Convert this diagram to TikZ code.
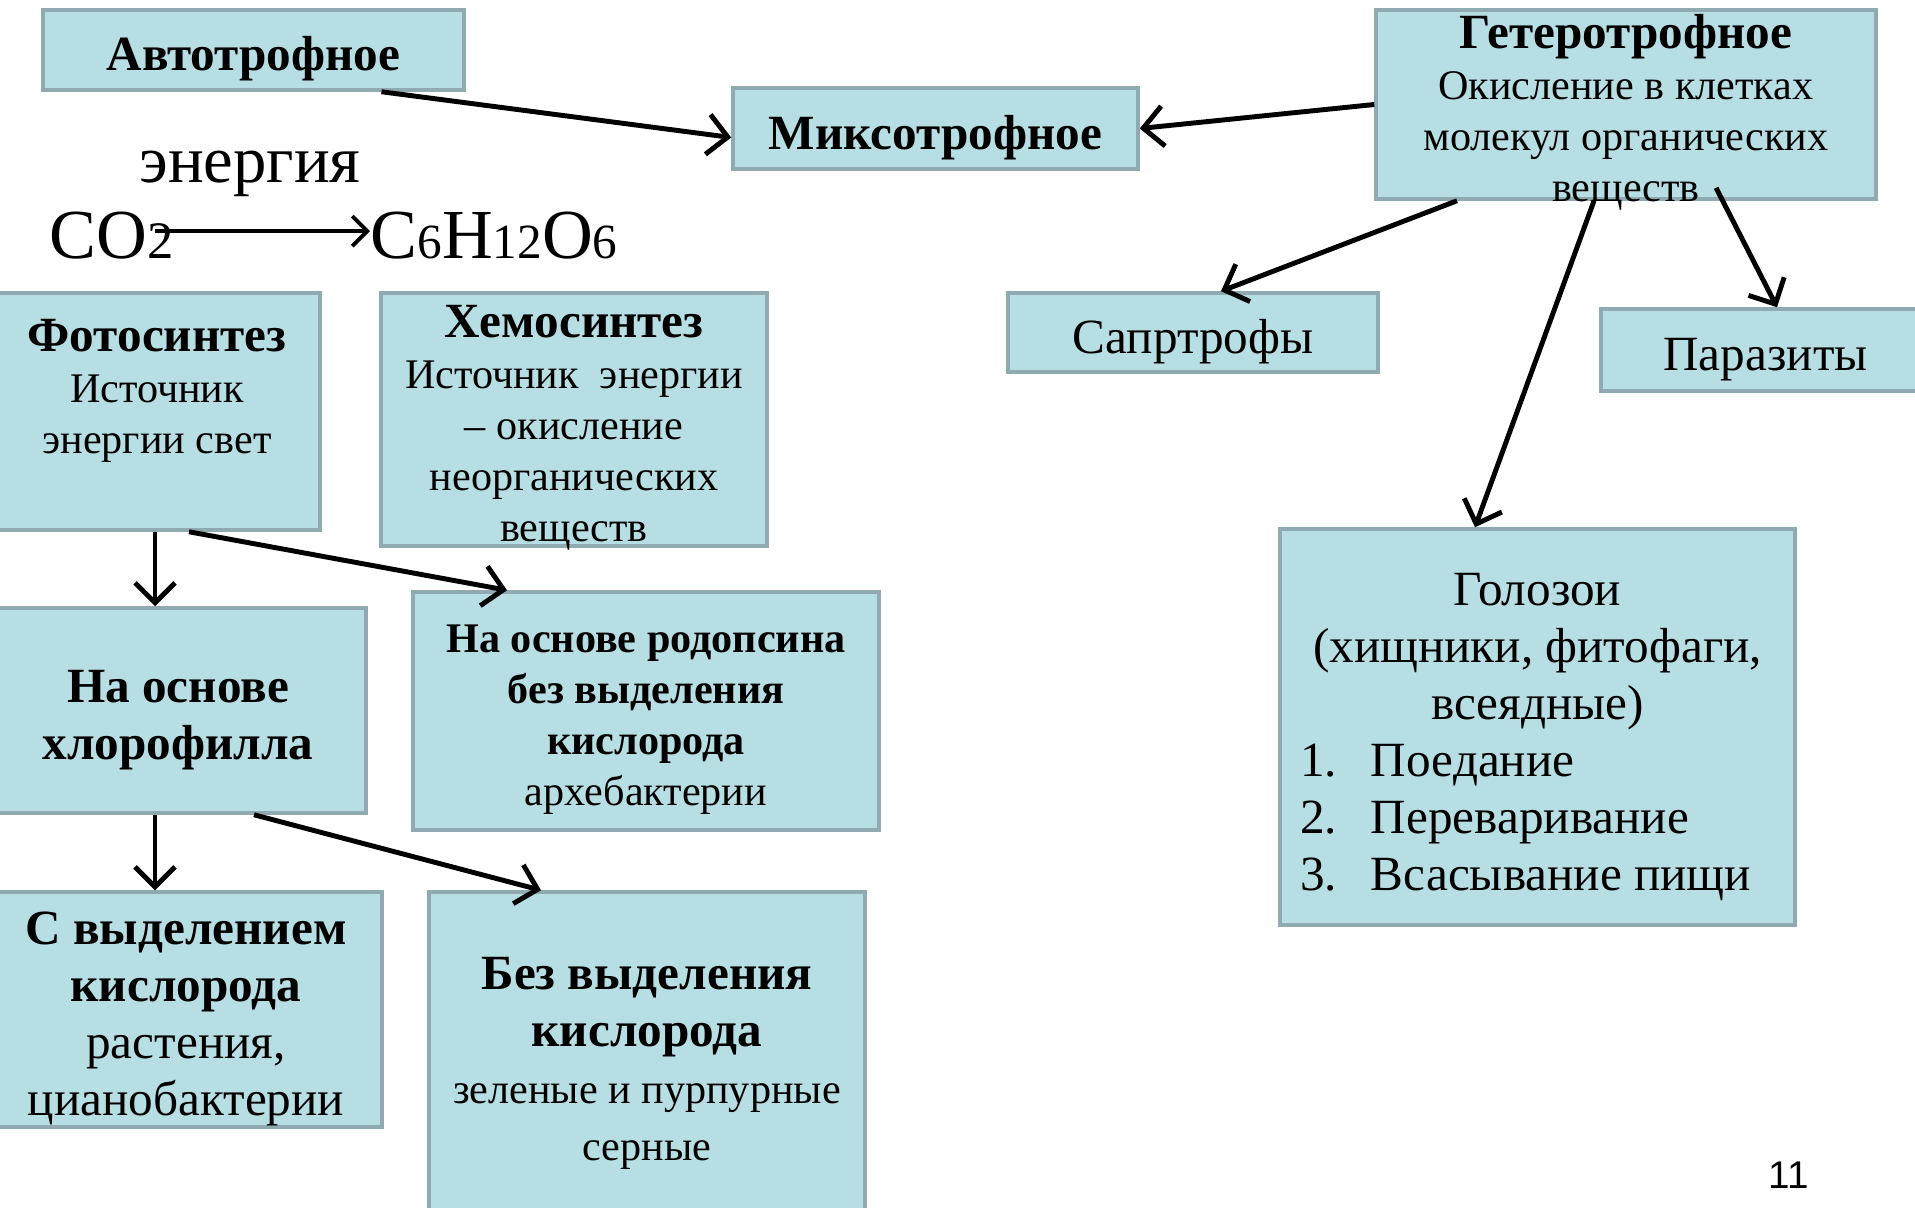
\documentclass[tikz,border=0pt]{standalone}
\usepackage{fontspec}
\setmainfont{Liberation Serif}
\newfontfamily\pagefont{Liberation Sans}
\usetikzlibrary{arrows.meta,positioning,calc}
\definecolor{boxfill}{HTML}{B7DEE3}
\definecolor{boxline}{HTML}{8FAAB0}
\newcommand{\sizeL}{\fontsize{14}{16.2}\selectfont}
\newcommand{\sizeM}{\fontsize{12}{14.5}\selectfont}
\newcommand{\topgap}{\rule{0pt}{1.05em}}
\newcommand{\holoitem}[2]{\makebox[4.75cm][l]{\makebox[0.71cm][l]{#1}#2}}

\begin{document}
\begin{tikzpicture}[
  box/.style={draw=boxline, fill=boxfill, line width=1pt, inner sep=0pt, align=center},
  txt/.style={inner sep=0pt, align=center},
  arrow/.style={-{Straight Barb[length=2mm,width=4mm]}, line width=1.4pt},
  thinarrow/.style={-{Straight Barb[length=1.5mm,width=3mm]}, line width=1.1pt},
]
\clip (0,0) rectangle (19.15,-12.07);
\fill[white] (0,0) rectangle (19.15,-12.07);

% Top row
\node[box, minimum width=4.21cm, minimum height=0.8cm, font=\sizeL\bfseries] (auto) at (2.535,-0.5) {\topgap Автотрофное};
\node[box, minimum width=4.05cm, minimum height=0.81cm, font=\sizeL\bfseries] (mixo) at (9.355,-1.285) {\topgap Миксотрофное};
\node[box, minimum width=5.0cm, minimum height=1.89cm] (hetero) at (16.26,-1.045) {};
\node[txt, font=\sizeM] (hetero-t) at (16.26,-1.12) {{\sizeL\bfseries Гетеротрофное}\\Окисление в клетках\\молекул органических\\веществ};

% Formula
\node[font=\fontsize{19}{22}\selectfont, anchor=base, inner sep=0pt] (energy) at (2.5,-1.83) {энергия};
\node[font=\fontsize{20}{24}\selectfont, anchor=base west, inner sep=0pt] (co2) at (0.49,-2.59) {CO{\fontsize{15}{16}\selectfont 2}};
\node[font=\fontsize{20}{24}\selectfont, anchor=base west, inner sep=0pt] (gluc) at (3.70,-2.59) {C{\fontsize{14}{16}\selectfont 6}H{\fontsize{14}{16}\selectfont 12}O{\fontsize{14}{16}\selectfont 6}};

% Autotrophic branch
\node[box, minimum width=3.3cm, minimum height=2.37cm] (photo) at (1.55,-4.115) {};
\node[txt, font=\sizeM] (photo-t) at (1.57,-3.91) {{\sizeL\bfseries Фотосинтез}\\Источник\\энергии свет};
\node[box, minimum width=3.86cm, minimum height=2.53cm] (chemo) at (5.74,-4.195) {};
\node[txt, font=\sizeM] (chemo-t) at (5.74,-4.28) {{\sizeL\bfseries Хемосинтез}\\Источник\ \ энергии\\– окисление\\неорганических\\веществ};
\node[box, minimum width=3.76cm, minimum height=2.05cm, font=\sizeL\bfseries] (chloro) at (1.78,-7.105) {\topgap На основе\\хлорофилла};
\node[box, minimum width=4.66cm, minimum height=2.38cm, font=\sizeM] (rhodo) at (6.46,-7.11) {\bfseries\topgap На основе родопсина\\\bfseries без выделения\\\bfseries кислорода\\архебактерии};
\node[box, minimum width=3.92cm, minimum height=2.35cm] (oxy) at (1.86,-10.095) {};
\node[txt, font=\sizeL] (oxy-t) at (1.86,-10.19) {\bfseries С выделением\\\bfseries кислорода\\растения,\\цианобактерии};
\node[box, minimum width=4.36cm, minimum height=3.23cm, font=\sizeL] (nooxy) at (6.47,-10.535) {\bfseries\topgap Без выделения\\\bfseries кислорода\\{\sizeM зеленые и пурпурные}\\{\sizeM серные}};

% Heterotrophic branch
\node[box, minimum width=3.7cm, minimum height=0.79cm, font=\sizeL] (sapro) at (11.93,-3.325) {\topgap Сапртрофы};
\node[box, minimum width=3.29cm, minimum height=0.82cm, font=\sizeL] (para) at (17.655,-3.5) {\topgap Паразиты};
\node[box, minimum width=5.15cm, minimum height=3.96cm, font=\sizeL] (holo) at (15.375,-7.27) {\topgap Голозои\\(хищники, фитофаги,\\всеядные)\\\holoitem{1.}{Поедание}\\\holoitem{2.}{Переваривание}\\\holoitem{3.}{Всасывание пищи}};

% Page number
\node[font=\pagefont\fontsize{11}{13}\selectfont, anchor=base, inner sep=0pt] (pagenum) at (17.89,-11.88) {11};

% Arrows
\draw[thinarrow] ([xshift=-0.19cm,yshift=0.05cm]co2.east) -- ([yshift=0.05cm]co2.east -| gluc.west);
\draw[arrow] ([xshift=1.28cm]auto.south) -- ([yshift=-0.09cm]mixo.west);
\draw[arrow] (hetero.west) -- (mixo.east);
\draw[arrow] ([xshift=-1.69cm]hetero.south) -- ([xshift=0.28cm]sapro.north);
\draw[arrow] ([xshift=0.9cm,yshift=0.13cm]hetero.south) -- ([xshift=0.115cm]para.north);
\draw[arrow] ([xshift=-0.32cm]hetero.south) -- ([xshift=-0.625cm]holo.north);
\draw[arrow] (photo.south) -- (photo.south |- chloro.north);
\draw[arrow] ([xshift=0.34cm]photo.south) -- ([xshift=-1.39cm]rhodo.north);
\draw[arrow] ([xshift=-0.23cm]chloro.south) -- ([xshift=-0.23cm]chloro.south |- oxy.north);
\draw[arrow] ([xshift=0.76cm]chloro.south) -- ([xshift=-1.06cm]nooxy.north);
\end{tikzpicture}
\end{document}
